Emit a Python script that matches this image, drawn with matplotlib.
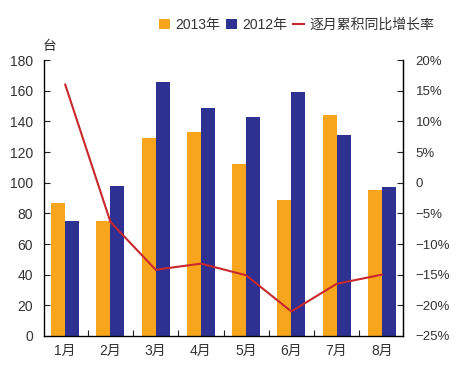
import matplotlib
matplotlib.use("Agg")
import matplotlib.pyplot as plt
import numpy as np
from matplotlib.ticker import FuncFormatter

plt.rcParams['font.family'] = ['Liberation Sans', 'Noto Sans CJK SC', 'DejaVu Sans']
plt.rcParams['text.color'] = '#333333'
plt.rcParams['xtick.color'] = '#222222'
plt.rcParams['ytick.color'] = '#222222'
plt.rcParams['xtick.labelcolor'] = '#333333'
plt.rcParams['ytick.labelcolor'] = '#333333'

months = ['1月', '2月', '3月', '4月', '5月', '6月', '7月', '8月']
sales_2013 = [87, 75, 129, 133, 112, 89, 144, 95]
sales_2012 = [75, 98, 166, 149, 143, 159, 131, 97]
growth = [16.0, -6.4, -14.2, -13.2, -15.1, -21.0, -16.5, -15.0]

c13 = '#F8A51E'
c12 = '#2E3192'
cl = '#C8282D'

fig = plt.figure(figsize=(4.58, 3.65), dpi=100)
ax = fig.add_axes([0.096, 0.0795, 0.784, 0.756])
x = np.arange(len(months))
w = 0.31
ax.bar(x - w/2, sales_2013, w, color=c13, label='2013年')
ax.bar(x + w/2, sales_2012, w, color=c12, label='2012年')
ax.set_xlim(-0.47, 7.47)
ax.set_ylim(0, 180)
ax.set_yticks(range(0, 181, 20))
ax.set_xticks(x)
ax.set_xticklabels(months)
ax.set_xticks(np.arange(0.5, 7, 1), minor=True)
ax.tick_params(axis='x', which='major', length=0, pad=6, labelsize=10)
ax.tick_params(axis='x', which='minor', direction='in', length=4, width=0.8)
ax.tick_params(axis='y', direction='in', length=4, width=0.8, labelsize=10, pad=8)
for s in ['top']:
    ax.spines[s].set_visible(False)
for s in ['left', 'bottom', 'right']:
    ax.spines[s].set_linewidth(0.9)

ax2 = ax.twinx()
ax2.plot(x, growth, color=cl, lw=1.5, label='逐月累积同比增长率')
ax2.set_ylim(-25, 20)
ax2.set_yticks(range(-25, 21, 5))
ax2.yaxis.set_major_formatter(FuncFormatter(lambda v, p: '0' if v == 0 else f'{int(v)}%'.replace('-', '\u2212')))
ax2.tick_params(axis='y', direction='in', length=4, width=0.8, labelsize=9.5, pad=9)
ax2.spines['top'].set_visible(False)
ax2.spines['right'].set_linewidth(0.9)

fig.text(0.108, 0.855, '台', fontsize=10, ha='center', va='bottom')

h1, l1 = ax.get_legend_handles_labels()
h2, l2 = ax2.get_legend_handles_labels()
fig.legend(h1 + h2, l1 + l2, loc='upper right', bbox_to_anchor=(0.975, 0.985), ncol=3,
           frameon=False, fontsize=10, handlelength=0.8, handleheight=0.8,
           columnspacing=0.45, handletextpad=0.35)

fig.savefig('out.png', dpi=100)
